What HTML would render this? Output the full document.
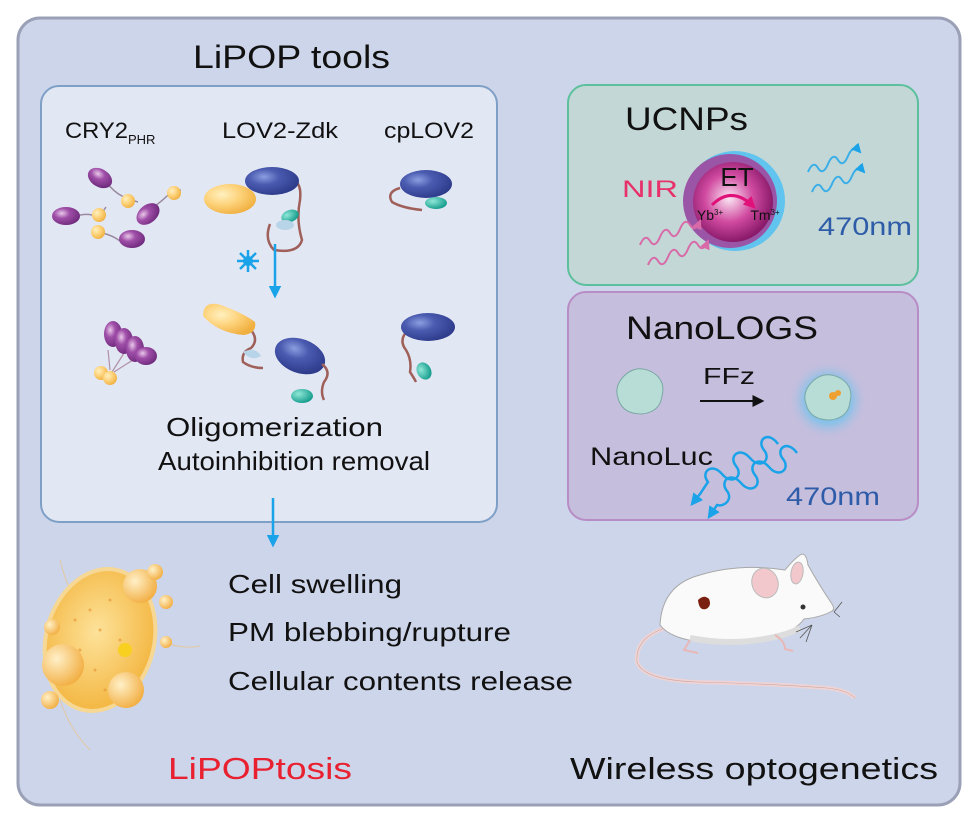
<!DOCTYPE html>
<html><head><meta charset="utf-8"><style>
html,body{margin:0;padding:0;background:#fff;}
svg{display:block;font-family:"Liberation Sans",sans-serif;}
</style></head><body>
<svg width="978" height="823" viewBox="0 0 978 823">
<defs>
<radialGradient id="pur" cx="35%" cy="35%" r="70%"><stop offset="0" stop-color="#e9c8ea"/><stop offset="0.4" stop-color="#a04fa8"/><stop offset="1" stop-color="#6e2a7c"/></radialGradient>
<radialGradient id="blu" cx="35%" cy="35%" r="70%"><stop offset="0" stop-color="#8c9ee0"/><stop offset="0.4" stop-color="#4a5bb0"/><stop offset="1" stop-color="#2d3a8a"/></radialGradient>
<radialGradient id="yel" cx="35%" cy="35%" r="70%"><stop offset="0" stop-color="#fff0c0"/><stop offset="0.5" stop-color="#fdd27a"/><stop offset="1" stop-color="#f0b040"/></radialGradient>
<radialGradient id="tea" cx="35%" cy="35%" r="70%"><stop offset="0" stop-color="#8fe8d8"/><stop offset="1" stop-color="#129a8a"/></radialGradient>
<radialGradient id="ball" cx="45%" cy="45%" r="55%"><stop offset="0" stop-color="#fbe8f4"/><stop offset="0.55" stop-color="#d04aa0"/><stop offset="1" stop-color="#8a1a6a"/></radialGradient>
<radialGradient id="glow" cx="50%" cy="50%" r="50%"><stop offset="0" stop-color="#2fb0ea"/><stop offset="0.6" stop-color="#6ac4ee" stop-opacity="0.6"/><stop offset="1" stop-color="#c5bedd" stop-opacity="0"/></radialGradient>
<radialGradient id="cell" cx="45%" cy="45%" r="60%"><stop offset="0" stop-color="#fde29a"/><stop offset="1" stop-color="#f3b43c"/></radialGradient>
<radialGradient id="bleb" cx="35%" cy="35%" r="70%"><stop offset="0" stop-color="#fff0c8"/><stop offset="1" stop-color="#f2ae42"/></radialGradient>
<marker id="ab" viewBox="0 0 10 10" refX="8" refY="5" markerWidth="5" markerHeight="5" orient="auto"><path d="M0,0L10,5L0,10z" fill="#1aa3e8"/></marker>
<marker id="ak" viewBox="0 0 10 10" refX="8" refY="5" markerWidth="6" markerHeight="6" orient="auto"><path d="M0,0L10,5L0,10z" fill="#111"/></marker>
<marker id="ap" viewBox="0 0 10 10" refX="8" refY="5" markerWidth="5" markerHeight="5" orient="auto"><path d="M0,0L10,5L0,10z" fill="#d86aa8"/></marker>
<marker id="am" viewBox="0 0 10 10" refX="8" refY="5" markerWidth="4" markerHeight="4" orient="auto"><path d="M0,0L10,5L0,10z" fill="#e0127a"/></marker>
</defs>
<rect x="0" y="0" width="978" height="823" fill="#fff"/>
<rect x="18" y="18" width="942" height="787" rx="22" fill="#cdd5ea" stroke="#9aa0b6" stroke-width="3"/>
<text x="193" y="68" font-size="32" textLength="197" lengthAdjust="spacingAndGlyphs" fill="#111">LiPOP tools</text>
<rect x="41" y="86" width="456" height="436" rx="18" fill="#e2e7f4" stroke="#7fa0c6" stroke-width="2"/>
<text x="65" y="138" font-size="22" fill="#111"><tspan textLength="63" lengthAdjust="spacingAndGlyphs">CRY2</tspan><tspan font-size="13" dy="6">PHR</tspan></text>
<text x="222" y="138" font-size="22" textLength="116" lengthAdjust="spacingAndGlyphs" fill="#111">LOV2-Zdk</text>
<text x="384" y="138" font-size="22" textLength="90" lengthAdjust="spacingAndGlyphs" fill="#111">cpLOV2</text>
<!-- CRY2 monomers -->
<g stroke="#9a8aa0" stroke-width="1.5" fill="none">
<path d="M106,182 q8,10 16,14 t16,6"/><path d="M74,217 q10,-4 18,-2 t14,-8"/><path d="M155,206 q8,-6 12,-10 t14,-6"/><path d="M102,233 q10,2 18,8 t20,0"/></g>
<ellipse cx="100" cy="178" rx="13" ry="9" transform="rotate(30 100 178)" fill="url(#pur)"/>
<circle cx="128" cy="201" r="7" fill="url(#yel)"/>
<ellipse cx="66" cy="216" rx="14" ry="9" fill="url(#pur)"/>
<circle cx="99" cy="215" r="7" fill="url(#yel)"/>
<ellipse cx="148" cy="214" rx="13" ry="9" transform="rotate(-40 148 214)" fill="url(#pur)"/>
<circle cx="174" cy="193" r="7" fill="url(#yel)"/>
<circle cx="98" cy="232" r="7" fill="url(#yel)"/>
<ellipse cx="132" cy="239" rx="13" ry="9" fill="url(#pur)"/>
<!-- LOV2-Zdk closed -->
<path d="M292,180 q10,2 8,20 q-4,20 2,40 q-4,14 -28,10 q-10,-10 -4,-26" stroke="#a0605a" stroke-width="2.5" fill="none"/>
<ellipse cx="230" cy="199" rx="26" ry="15" fill="url(#yel)"/>
<ellipse cx="272" cy="181" rx="27" ry="14" fill="url(#blu)"/>
<ellipse cx="290" cy="216" rx="9" ry="6" transform="rotate(-20 290 216)" fill="url(#tea)"/>
<ellipse cx="285" cy="225" rx="9" ry="5" fill="#b8d4e8"/>
<!-- cpLOV2 -->
<path d="M400,188 q-14,4 -8,14 q10,6 30,8" stroke="#a0605a" stroke-width="2.5" fill="none"/>
<ellipse cx="426" cy="184" rx="26" ry="14" fill="url(#blu)"/>
<ellipse cx="436" cy="203" rx="11" ry="6" fill="url(#tea)"/>
<!-- light arrow -->
<g stroke="#1aa3e8" stroke-width="2.5"><line x1="248" y1="250" x2="248" y2="272"/><line x1="237" y1="261" x2="259" y2="261"/><line x1="240" y1="253" x2="256" y2="269"/><line x1="256" y1="253" x2="240" y2="269"/></g>
<circle cx="248" cy="261" r="5" fill="#1aa3e8"/>
<line x1="275" y1="244" x2="275" y2="296" stroke="#1aa3e8" stroke-width="2.5" marker-end="url(#ab)"/>
<!-- oligomer -->
<g stroke="#b090a8" stroke-width="1.2" fill="none"><path d="M110,370 l-2,-20"/><path d="M112,372 l14,-22"/><path d="M114,372 l22,-14"/></g>
<ellipse cx="113" cy="334" rx="9" ry="13" fill="url(#pur)"/>
<ellipse cx="124" cy="341" rx="9" ry="13" fill="url(#pur)"/>
<ellipse cx="135" cy="349" rx="9" ry="13" fill="url(#pur)"/>
<ellipse cx="146" cy="356" rx="11" ry="9" fill="url(#pur)"/>
<circle cx="101" cy="373" r="7" fill="url(#yel)"/><circle cx="110" cy="378" r="7" fill="url(#yel)"/>
<!-- LOV2-Zdk open -->
<path d="M251,330 q8,10 0,18 q-10,4 -8,14 q8,6 20,6" stroke="#a0605a" stroke-width="2.5" fill="none"/>
<path d="M203,316 q0,-16 18,-11 q22,8 34,17 q2,11 -11,13 q-26,-2 -41,-19z" fill="url(#yel)"/>
<path d="M243,352 q12,-6 18,4 q-10,6 -18,-4z" fill="#b8d4e8"/>
<ellipse cx="300" cy="356" rx="26" ry="17" transform="rotate(20 300 356)" fill="url(#blu)"/>
<path d="M322,364 q10,8 2,18 q-4,10 0,18" stroke="#a0605a" stroke-width="2.5" fill="none"/>
<ellipse cx="302" cy="396" rx="11" ry="7" fill="url(#tea)"/>
<!-- cpLOV2 open -->
<path d="M408,330 q-10,10 -2,20 q6,10 4,22 q4,6 6,10" stroke="#a0605a" stroke-width="2.5" fill="none"/>
<ellipse cx="428" cy="327" rx="27" ry="14" fill="url(#blu)"/>
<ellipse cx="424" cy="371" rx="7" ry="9" transform="rotate(-30 424 371)" fill="url(#tea)"/>
<text x="166" y="436" font-size="26" textLength="217" lengthAdjust="spacingAndGlyphs" fill="#111">Oligomerization</text>
<text x="158" y="470" font-size="26" textLength="272" lengthAdjust="spacingAndGlyphs" fill="#111">Autoinhibition removal</text>
<line x1="273" y1="498" x2="273" y2="545" stroke="#1aa3e8" stroke-width="2.5" marker-end="url(#ab)"/>
<!-- UCNPs panel -->
<rect x="568" y="85" width="350" height="200" rx="18" fill="#c3d8d6" stroke="#5cc09c" stroke-width="2"/>
<text x="625" y="130" font-size="32" textLength="123" lengthAdjust="spacingAndGlyphs" fill="#111">UCNPs</text>
<text x="622" y="197" font-size="24" textLength="56" lengthAdjust="spacingAndGlyphs" fill="#e8306a">NIR</text>
<circle cx="735" cy="201" r="50" fill="#60c4ee"/>
<circle cx="730" cy="201" r="47" fill="#9a55a6"/>
<circle cx="733" cy="202" r="40" fill="url(#ball)"/>
<text x="737" y="186" font-size="26" text-anchor="middle" fill="#111">ET</text>
<path d="M712,205 q20,-20 42,2" stroke="#e0127a" stroke-width="3" fill="none" marker-end="url(#am)"/>
<text x="710" y="220" font-size="14" text-anchor="middle" fill="#111">Yb<tspan font-size="8" dy="-5">3+</tspan></text>
<text x="765" y="220" font-size="14" text-anchor="middle" fill="#111">Tm<tspan font-size="8" dy="-5">3+</tspan></text>
<text x="818" y="235" font-size="25" textLength="94" lengthAdjust="spacingAndGlyphs" fill="#2f5ca8">470nm</text>
<g stroke="#d86aa8" stroke-width="2" fill="none">
<path d="M640,245 q5,-12 10,-4 t10,-4 t10,-4 t10,-4 t10,-4 t10,-4" marker-end="url(#ap)"/>
<path d="M648,265 q5,-12 10,-4 t10,-4 t10,-4 t10,-4 t10,-4 t10,-4" marker-end="url(#ap)"/>
</g>
<g stroke="#3aaee8" stroke-width="2" fill="none">
<path d="M808,172 q5,-12 10,-4 t10,-4 t10,-4 t10,-4 t12,-4" marker-end="url(#ab)"/>
<path d="M812,192 q5,-12 10,-4 t10,-4 t10,-4 t10,-4 t12,-4" marker-end="url(#ab)"/>
</g>
<!-- NanoLOGS panel -->
<rect x="568" y="292" width="350" height="228" rx="18" fill="#c6bedd" stroke="#b88dc6" stroke-width="2"/>
<text x="626" y="339" font-size="32" textLength="192" lengthAdjust="spacingAndGlyphs" fill="#111">NanoLOGS</text>
<text x="703" y="384" font-size="23" textLength="52" lengthAdjust="spacingAndGlyphs" fill="#111">FFz</text>
<line x1="700" y1="401" x2="762" y2="401" stroke="#111" stroke-width="2" marker-end="url(#ak)"/>
<path d="M624,376 q12,-12 28,-4 q14,8 10,24 q-2,16 -20,18 q-20,0 -24,-16 q-4,-12 6,-22z" fill="#b8dcd6" stroke="#7aa8a4" stroke-width="1"/>
<circle cx="828" cy="400" r="40" fill="url(#glow)"/>
<path d="M812,382 q12,-12 28,-4 q14,8 10,24 q-2,16 -20,18 q-20,0 -24,-16 q-4,-12 6,-22z" fill="#b8dcd6" stroke="#7aa8a4" stroke-width="1"/>
<circle cx="833" cy="396" r="4" fill="#f0a030"/><circle cx="838" cy="393" r="3" fill="#f0a030"/>
<text x="590" y="465" font-size="25" textLength="123" lengthAdjust="spacingAndGlyphs" fill="#111">NanoLuc</text>
<text x="786" y="505" font-size="25" textLength="94" lengthAdjust="spacingAndGlyphs" fill="#2f5ca8">470nm</text>
<g stroke="#1aa3e8" stroke-width="2.5" fill="none">
<path d="M797,453 c-10,-14 -22,-4 -14,6 c8,10 -4,20 -14,8 c-10,-12 -22,-2 -14,8 c8,10 -4,20 -14,8 c-10,-12 -22,-2 -14,8 c6,8 -2,16 -10,14 l-8,12" marker-end="url(#ab)"/>
<path d="M778,444 c-10,-14 -22,-4 -14,6 c8,10 -4,20 -14,8 c-10,-12 -22,-2 -14,8 c8,10 -4,20 -14,8 c-10,-12 -22,-2 -14,8 l-8,12 l-8,10" marker-end="url(#ab)"/>
</g>
<!-- cell -->
<g opacity="0.6" stroke="#f0c070" stroke-width="1" fill="none"><path d="M60,560 q10,40 30,60"/><path d="M160,640 q20,10 40,6"/><path d="M60,700 q10,30 30,50"/></g>
<ellipse cx="100" cy="640" rx="54" ry="72" transform="rotate(15 100 640)" fill="url(#cell)" stroke="#f6d894" stroke-width="4"/>
<g fill="#e89a3a" opacity="0.7"><circle cx="90" cy="610" r="1.5"/><circle cx="100" cy="630" r="1.5"/><circle cx="80" cy="650" r="1.5"/><circle cx="110" cy="600" r="1.5"/><circle cx="95" cy="670" r="1.5"/><circle cx="120" cy="640" r="1.5"/><circle cx="75" cy="620" r="1.5"/><circle cx="105" cy="690" r="1.5"/></g>
<circle cx="125" cy="650" r="7" fill="#f8d020"/>
<circle cx="140" cy="586" r="17" fill="url(#bleb)"/><circle cx="155" cy="572" r="8" fill="url(#bleb)"/>
<circle cx="63" cy="665" r="21" fill="url(#bleb)"/><circle cx="52" cy="627" r="8" fill="url(#bleb)"/>
<circle cx="126" cy="690" r="18" fill="url(#bleb)"/><circle cx="166" cy="602" r="7" fill="url(#bleb)"/><circle cx="166" cy="642" r="6" fill="url(#bleb)"/><circle cx="50" cy="700" r="9" fill="url(#bleb)"/>
<text x="228" y="593" font-size="26" textLength="174" lengthAdjust="spacingAndGlyphs" fill="#111">Cell swelling</text>
<text x="228" y="641" font-size="26" textLength="283" lengthAdjust="spacingAndGlyphs" fill="#111">PM blebbing/rupture</text>
<text x="228" y="690" font-size="26" textLength="345" lengthAdjust="spacingAndGlyphs" fill="#111">Cellular contents release</text>
<text x="168" y="779" font-size="31" textLength="184" lengthAdjust="spacingAndGlyphs" fill="#e82030">LiPOPtosis</text>
<text x="570" y="779" font-size="31" textLength="368" lengthAdjust="spacingAndGlyphs" fill="#111">Wireless optogenetics</text>
<!-- mouse -->
<path d="M665,628 q-30,10 -28,34 q6,18 60,20 q80,2 130,6 q20,2 28,10" stroke="#f0d4d4" stroke-width="4" fill="none"/>
<path d="M665,628 q-30,10 -28,34 q6,18 60,20 q80,2 130,6 q20,2 28,10" stroke="#c8a8a8" stroke-width="0.6" fill="none"/>
<path d="M660,625 q2,-40 40,-50 q40,-12 85,-5 q8,-10 15,-15 q6,-4 8,10 q10,18 22,36 q6,8 2,10 q-10,6 -28,8 q-10,14 -35,18 q-40,10 -75,4 q-25,-4 -34,-16z" fill="#fafafa" stroke="#a8a8a8" stroke-width="1"/>
<path d="M690,638 q40,8 80,0 q20,-4 30,-10" stroke="#ddd" stroke-width="6" fill="none"/>
<ellipse cx="765" cy="583" rx="13" ry="15" transform="rotate(-20 765 583)" fill="#f2c8cc" stroke="#bbb"/>
<ellipse cx="797" cy="573" rx="6" ry="11" transform="rotate(10 797 573)" fill="#f2c8cc" stroke="#bbb"/>
<circle cx="803" cy="607" r="2.5" fill="#333"/>
<path d="M698,600 q6,-6 11,-1 q3,7 -3,10 q-7,2 -8,-9z" fill="#7a2010"/>
<g stroke="#555" stroke-width="0.8"><line x1="812" y1="625" x2="800" y2="638"/><line x1="812" y1="625" x2="806" y2="642"/><line x1="812" y1="625" x2="796" y2="632"/><line x1="834" y1="612" x2="842" y2="602"/><line x1="834" y1="612" x2="840" y2="617"/></g>
<path d="M775,635 q10,6 10,14 l8,2" stroke="#e8b8b8" stroke-width="2" fill="none"/>
<path d="M690,640 l-6,10 l14,3" stroke="#e8b8b8" stroke-width="2" fill="none"/>
</svg>
</body></html>
